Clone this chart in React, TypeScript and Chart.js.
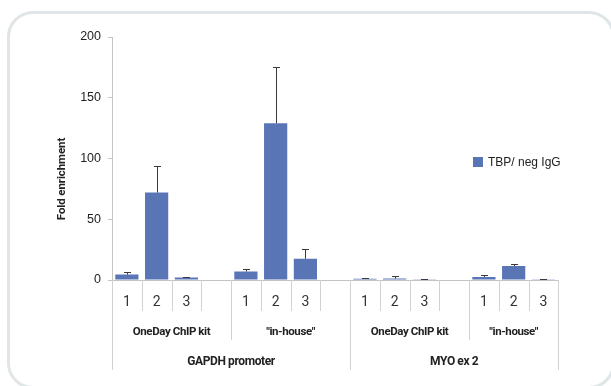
import React, { useEffect, useRef } from "react";
import { Chart, registerables } from "chart.js";

Chart.register(...registerables);

const categories = ["1", "2", "3", "", "1", "2", "3", "", "1", "2", "3", "", "1", "2", "3"];
const seriesLabel = "TBP/ neg IgG";
const yTitle = "Fold enrichment";
const values = [4.5, 72, 2, null, 7, 129, 17.5, null, 1, 1.2, 0.7, null, 2.5, 11.5, 0.7];
const errors = [2, 22, 0.8, null, 2, 46, 8, null, 0.4, 2, 0.5, null, 1.8, 2, 0.3];
const subGroups = ["OneDay ChIP kit", "\"in-house\"", "OneDay ChIP kit", "\"in-house\""];
const subGroupSpans = [[0, 4], [4, 8], [8, 12], [12, 15]];
const topGroups = ["GAPDH promoter", "MYO ex 2"];
const topGroupSpans = [[0, 8], [8, 15]];
const yTicks = [0, 50, 100, 150, 200];

const BAR_COLOR = "#5a75b6";
const LINE_COLOR = "#d2d2d2";

const errorBarPlugin = {
  id: "errorBars",
  afterDatasetsDraw(chart: any) {
    const ctx = chart.ctx;
    const meta = chart.getDatasetMeta(0);
    const y = chart.scales.y;
    ctx.save();
    ctx.strokeStyle = "#3a3a3a";
    ctx.lineWidth = 1;
    meta.data.forEach((bar: any, i: number) => {
      const v = values[i];
      const e = errors[i];
      if (v == null || e == null) return;
      const x = Math.round(bar.x) + 0.5;
      const y0 = y.getPixelForValue(v);
      const y1 = Math.round(y.getPixelForValue(v + e)) + 0.5;
      ctx.beginPath();
      ctx.moveTo(x, y0);
      ctx.lineTo(x, y1);
      ctx.moveTo(x - 3.5, y1);
      ctx.lineTo(x + 3.5, y1);
      ctx.stroke();
    });
    ctx.restore();
  },
};

const multiLevelPlugin = {
  id: "multiLevelX",
  afterDraw(chart: any) {
    const ctx = chart.ctx;
    const x = chart.scales.x;
    const yBase = Math.round(chart.scales.y.getPixelForValue(0));
    const n = categories.length;
    const half = (x.getPixelForValue(1) - x.getPixelForValue(0)) / 2;
    const edge = (i: number) => (i < n ? x.getPixelForValue(i) - half : x.getPixelForValue(n - 1) + half);
    ctx.save();
    ctx.strokeStyle = LINE_COLOR;
    ctx.lineWidth = 1;
    const level = (i: number) => {
      if (topGroupSpans.some((s) => s[0] === i || s[1] === i)) return 90;
      if (subGroupSpans.some((s) => s[0] === i || s[1] === i)) return 60;
      return 31;
    };
    for (let i = 0; i <= n; i++) {
      const px = Math.round(edge(i)) + 0.5;
      ctx.beginPath();
      ctx.moveTo(px, yBase);
      ctx.lineTo(px, yBase + level(i));
      ctx.stroke();
    }
    ctx.textAlign = "center";
    ctx.textBaseline = "middle";
    ctx.fillStyle = "#333";
    ctx.font = "14px Roboto";
    categories.forEach((c, i) => {
      if (c) ctx.fillText(c, x.getPixelForValue(i), yBase + 22);
    });
    ctx.font = "bold 11.5px Roboto";
    ctx.fillStyle = "#222";
    (ctx as any).letterSpacing = "-0.4px";
    subGroups.forEach((g, k) => {
      const [a, b] = subGroupSpans[k];
      ctx.fillText(g, (edge(a) + edge(b)) / 2, yBase + 52);
    });
    ctx.font = "bold 12px Roboto";
    (ctx as any).letterSpacing = "-0.4px";
    topGroups.forEach((g, k) => {
      const [a, b] = topGroupSpans[k];
      ctx.fillText(g, (edge(a) + edge(b)) / 2, yBase + 82);
    });
    // y axis title
    ctx.save();
    ctx.translate(62, 179);
    ctx.rotate(-Math.PI / 2);
    ctx.font = "bold 11.5px Roboto";
    (ctx as any).letterSpacing = "-0.1px";
    ctx.fillText(yTitle, 0, 0);
    ctx.restore();
    (ctx as any).letterSpacing = "0px";
    ctx.restore();
  },
};

const legendPlugin = {
  id: "customLegend",
  afterDraw(chart: any) {
    const ctx = chart.ctx;
    const ds = chart.data.datasets[0];
    const lx = 473;
    const ly = 157;
    ctx.save();
    ctx.fillStyle = ds.backgroundColor;
    ctx.fillRect(lx, ly, 10, 10);
    ctx.fillStyle = "#222";
    ctx.font = "12px 'Liberation Sans'";
    ctx.textBaseline = "middle";
    ctx.textAlign = "left";
    ctx.fillText(ds.label, lx + 15, ly + 5.5);
    ctx.restore();
  },
};

export default function App() {
  const ref = useRef<HTMLCanvasElement | null>(null);
  useEffect(() => {
    if (!ref.current) return;
    const chart = new Chart(ref.current, {
      type: "bar",
      data: {
        labels: categories,
        datasets: [
          {
            label: seriesLabel,
            data: values as any,
            backgroundColor: BAR_COLOR,
            borderWidth: 0,
            categoryPercentage: 1,
            barPercentage: 0.78,
          },
        ],
      },
      options: {
        animation: false,
        responsive: false,
        layout: { padding: { top: 37, right: 52.7, bottom: 0, left: 0 } },
        plugins: { legend: { display: false }, tooltip: { enabled: false } },
        scales: {
          x: {
            grid: { display: false },
            border: { display: true, color: "#c4c4c4" },
            ticks: { display: false },
            afterFit: (s: any) => {
              s.height = 106;
            },
          },
          y: {
            min: 0,
            max: 200,
            afterBuildTicks: (s: any) => {
              s.ticks = yTicks.map((v) => ({ value: v }));
            },
            grid: { drawOnChartArea: false, tickLength: 4, color: "#c4c4c4" },
            border: { display: true, color: "#c4c4c4" },
            ticks: {
              color: "#222",
              padding: 7,
              font: { family: "'Liberation Sans'", size: 12.5 },
            },
            afterFit: (s: any) => {
              s.width = 112;
            },
          },
        },
      },
      plugins: [errorBarPlugin, multiLevelPlugin, legendPlugin],
    });
    return () => chart.destroy();
  }, []);
  return (
    <div style={{ position: "fixed", left: 0, top: 0, width: 611, height: 386, background: "#fff", overflow: "hidden" }}>
      <div
        style={{
          position: "absolute",
          left: 7,
          top: 11,
          width: 608,
          height: 378,
          boxSizing: "border-box",
          border: "3px solid #e0e5e8",
          borderRadius: 26,
        }}
      />
      <canvas ref={ref} width={611} height={386} style={{ position: "absolute", left: 0, top: 0 }} />
    </div>
  );
}
